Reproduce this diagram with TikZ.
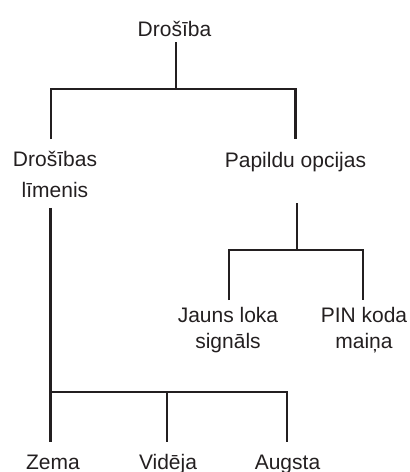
\documentclass[tikz,border=0pt]{standalone}
\usepackage{fontspec}
\setmainfont{Liberation Sans}
\definecolor{TreeInk}{HTML}{231F20}

\begin{document}
\begin{tikzpicture}[x=1pt,y=-1pt,
  item/.style={anchor=base,inner sep=0pt,align=center,text=TreeInk,
    font=\fontsize{21}{26}\selectfont},
  branch/.style={draw=TreeInk,line width=2.4pt}]
  \useasboundingbox (0,0) rectangle (410,472);
  % labels (two-line labels sit on their last line)
  \node[item] (root) at (174.5,36) {Drošība};
  \node[item] (level) at (55,197) {Drošības\\[5pt]līmenis};
  \node[item] (extra) at (295.5,167) {Papildu opcijas};
  \node[item] (ring) at (228,348) {Jauns loka\\signāls};
  \node[item] (pin) at (364,348) {PIN koda\\maiņa};
  \node[item] (low) at (53,469) {Zema};
  \node[item] (mid) at (168,469) {Vidēja};
  \node[item] (high) at (287.5,469) {Augsta};
  % bar levels
  \coordinate (bar1) at (0,89);
  \coordinate (bar2) at (0,250);
  \coordinate (bar3) at (0,392);
  % connectors
  \draw[branch,shorten <=6pt] ([xshift=1.5pt]root.south) -- ([xshift=1.5pt]root.south |- bar1);
  \draw[branch,shorten <=11.5pt,shorten >=12.5pt] ([xshift=-4pt]level.north) -- ([xshift=-4pt]level.north |- bar1)
    -- (extra.north |- bar1) -- (extra.north);
  \draw[branch,shorten <=31.5pt] ([xshift=1.5pt]extra.south) -- ([xshift=1.5pt]extra.south |- bar2);
  \draw[branch,shorten <=6.5pt,shorten >=6.5pt] ([xshift=1pt]ring.north) -- ([xshift=1pt]ring.north |- bar2)
    -- ([xshift=-1pt]pin.north |- bar2) -- ([xshift=-1pt]pin.north);
  \draw[branch,shorten <=10.5pt,shorten >=12pt] ([xshift=-4.5pt]level.south) -- ([xshift=-2.5pt]low.north);
  \draw[branch,shorten >=12pt] ([xshift=-2.5pt]low.north |- bar3) -- ([xshift=-0.5pt]high.north |- bar3)
    -- ([xshift=-0.5pt]high.north);
  \draw[branch,shorten >=12pt] ([xshift=-1pt]mid.north |- bar3) -- ([xshift=-1pt]mid.north);
\end{tikzpicture}
\end{document}
